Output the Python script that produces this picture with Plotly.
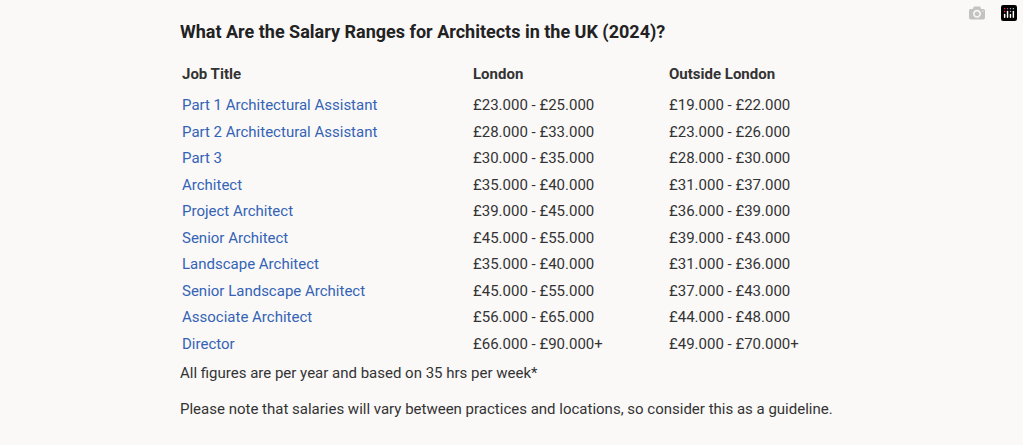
import plotly.graph_objects as go

title = "What Are the Salary Ranges for Architects in the UK (2024)?"
headers = ["Job Title", "London", "Outside London"]
jobs = ["Part 1 Architectural Assistant", "Part 2 Architectural Assistant", "Part 3", "Architect",
        "Project Architect", "Senior Architect", "Landscape Architect", "Senior Landscape Architect",
        "Associate Architect", "Director"]
london = ["£23.000 - £25.000", "£28.000 - £33.000", "£30.000 - £35.000", "£35.000 - £40.000",
          "£39.000 - £45.000", "£45.000 - £55.000", "£35.000 - £40.000", "£45.000 - £55.000",
          "£56.000 - £65.000", "£66.000 - £90.000+"]
outside = ["£19.000 - £22.000", "£23.000 - £26.000", "£28.000 - £30.000", "£31.000 - £37.000",
           "£36.000 - £39.000", "£39.000 - £43.000", "£31.000 - £36.000", "£37.000 - £43.000",
           "£44.000 - £48.000", "£49.000 - £70.000+"]
notes = ["All figures are per year and based on 35 hrs per week*",
         "Please note that salaries will vary between practices and locations, so consider this as a guideline."]

W, H = 1023, 445
bg = "#faf9f8"
txt = "#333333"
link = "#3463b5"

fig = go.Figure(go.Table(
    domain=dict(x=[174 / W, 900 / W], y=[1 - 354 / H, 1 - 57 / H]),
    columnwidth=[291, 196, 239],
    header=dict(values=[f"<b>{h}</b>" for h in headers], height=22.5, align="left",
                fill_color=bg, line_color=bg, font=dict(family="Roboto", size=15, color=txt)),
    cells=dict(values=[jobs, london, outside], height=26.5, align="left",
               fill_color=bg, line_color=bg,
               font=dict(family="Roboto", size=15, color=[link, txt, txt])),
))
fig.add_annotation(text=f"<b>{title}</b>", x=178 / W, y=1 - 32 / H, xref="paper", yref="paper",
                   xanchor="left", yanchor="middle", showarrow=False,
                   font=dict(family="Roboto", size=18, color="#222222"))
for i, n in enumerate(notes):
    fig.add_annotation(text=n, x=178 / W, y=1 - (373 + 36 * i) / H, xref="paper", yref="paper",
                       xanchor="left", yanchor="middle", showarrow=False,
                       font=dict(family="Roboto", size=15, color=txt))
fig.update_layout(width=W, height=H, margin=dict(l=0, r=0, t=0, b=0),
                  paper_bgcolor=bg, plot_bgcolor=bg)
fig.write_html("out.html", post_script="document.body.style.margin='0';document.body.style.background='%s';" % bg)
